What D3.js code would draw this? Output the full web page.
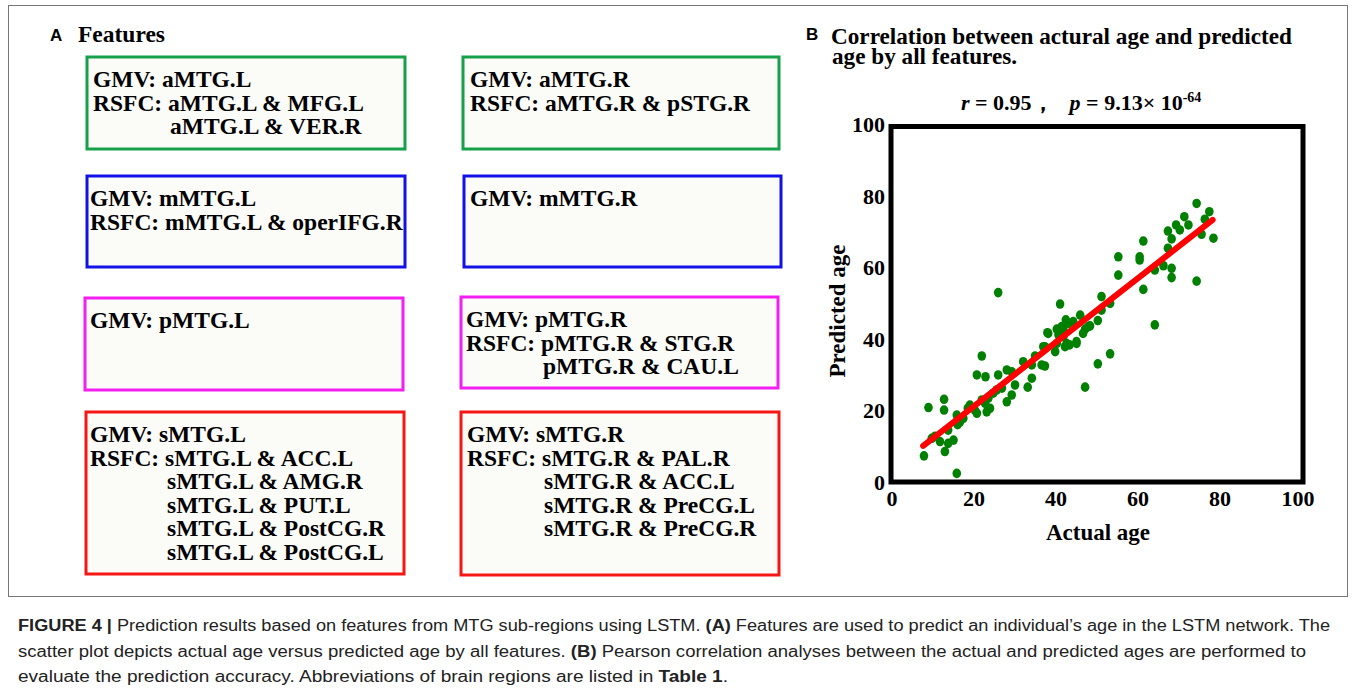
<!DOCTYPE html>
<html>
<head>
<meta charset="utf-8">
<script src="https://cdn.jsdelivr.net/npm/d3@7"></script>
<style>
  body { margin: 0; background: #fff; }
  svg { display: block; }
</style>
</head>
<body>
<svg width="1357" height="693"></svg>
<script>
// panel A: features of each MTG sub-region
var gmvRegions = ["aMTG.L", "aMTG.R", "mMTG.L", "mMTG.R", "pMTG.L", "pMTG.R", "sMTG.L", "sMTG.R"];
var rsfcPairs = [
  ["aMTG.L & MFG.L", "aMTG.L & VER.R"],
  ["aMTG.R & pSTG.R"],
  ["mMTG.L & operIFG.R"],
  [],
  [],
  ["pMTG.R & STG.R", "pMTG.R & CAU.L"],
  ["sMTG.L & ACC.L", "sMTG.L & AMG.R", "sMTG.L & PUT.L", "sMTG.L & PostCG.R", "sMTG.L & PostCG.L"],
  ["sMTG.R & PAL.R", "sMTG.R & ACC.L", "sMTG.R & PreCG.L", "sMTG.R & PreCG.R"]
];
var boxColors = ["#16a04a", "#16a04a", "#1212e6", "#1212e6", "#f21ef2", "#f21ef2", "#f51616", "#f51616"];

// panel B: actual vs predicted age
var actualAge = [7.8, 8.9, 12.7, 12.7, 15.8, 11.7, 12.9, 13.7, 15.0, 13.7, 15.8, 16.6, 9.7, 20.7, 21.9,
  22.8, 25.9, 28.0, 29.2, 30.0, 28.0, 29.2, 32.0, 33.1, 34.1, 36.5, 37.3, 36.9, 38.1, 41.0,
  40.2, 41.8, 42.6, 41.4, 43.0, 45.0, 19.0, 20.2, 20.7, 23.1, 23.9, 22.7, 21.9, 23.5, 24.7,
  25.5, 26.8, 18.5, 17.4, 64.1, 53.2, 50.2, 47.1, 50.2, 51.1, 53.2, 45.9, 44.2, 47.9, 46.6,
  74.3, 77.4, 76.3, 71.3, 72.3, 69.3, 70.2, 67.3, 68.2, 75.5, 78.4, 61.3, 67.3, 55.2, 60.4,
  60.4, 55.2, 64.1, 66.2, 68.2, 68.2, 61.3, 74.3, 51.1, 25.9, 42.4, 41.8, 40.2, 37.9, 40.6,
  42.2, 43.3, 39.8, 37.3, 34.9, 34.1, 48.3, 47.1, 45.0, 16.0, 10.5];
var predictedAge = [7.3, 20.8, 23.1, 20.1, 2.4, 11.3, 8.5, 10.8, 11.7, 14.5, 18.7, 16.8, 12.2, 29.9, 35.2,
  29.4, 29.9, 31.3, 30.8, 27.1, 22.4, 24.3, 33.6, 26.5, 29.0, 32.7, 32.4, 37.8, 41.5, 49.7,
  38.7, 40.6, 38.7, 43.4, 44.3, 39.2, 21.5, 20.1, 19.2, 19.6, 20.6, 22.0, 22.9, 23.4, 24.8,
  25.7, 26.2, 20.6, 17.8, 43.9, 35.8, 33.0, 26.5, 45.1, 48.0, 49.9, 46.6, 44.8, 43.4, 41.5,
  77.8, 75.5, 73.4, 74.1, 71.8, 71.8, 70.4, 70.1, 67.9, 69.2, 68.1, 67.3, 65.3, 62.9, 62.9,
  62.0, 57.8, 59.2, 60.4, 59.7, 57.1, 53.8, 56.1, 51.8, 52.9, 45.3, 42.5, 42.7, 41.7, 41.1,
  37.8, 38.3, 36.4, 37.8, 35.2, 32.7, 43.6, 42.7, 38.7, 16.0, 12.8];
var fitX = [7.6, 78.2];
var fitY = [10.1, 73.2];
var tickValues = [0, 20, 40, 60, 80, 100];

var serif = "'Liberation Serif', 'Times New Roman', serif";
var sans = "'Liberation Sans', Arial, sans-serif";

var svg = d3.select("svg");

// figure frame
svg.append("rect")
  .attr("x", 8.5).attr("y", 5.5).attr("width", 1339).attr("height", 591)
  .attr("fill", "none").attr("stroke", "#777").attr("stroke-width", 1);

// ---------- panel A ----------
svg.append("text").attr("x", 50).attr("y", 41)
  .style("font-family", sans).style("font-weight", "bold").style("font-size", "17px")
  .text("A");
svg.append("text").attr("x", 78).attr("y", 42)
  .style("font-family", serif).style("font-weight", "bold").style("font-size", "23.5px")
  .text("Features");

var boxLayout = [
  { x: 87, y: 57, w: 318, h: 92, tx: 93 },
  { x: 463, y: 57, w: 316, h: 92, tx: 470 },
  { x: 87, y: 176, w: 318, h: 91, tx: 90 },
  { x: 464, y: 176, w: 317, h: 91, tx: 470 },
  { x: 85, y: 298, w: 318, h: 92, tx: 90 },
  { x: 461, y: 297, w: 317, h: 91, tx: 466 },
  { x: 86, y: 412, w: 318, h: 162, tx: 90 },
  { x: 461, y: 412, w: 318, h: 163, tx: 467 }
];
var lineGap = 23.6;

gmvRegions.forEach(function(region, i) {
  var b = boxLayout[i];
  var g = svg.append("g");
  g.append("rect")
    .attr("x", b.x).attr("y", b.y).attr("width", b.w).attr("height", b.h)
    .attr("fill", "#fbfbf8").attr("stroke", boxColors[i]).attr("stroke-width", 3);

  var lines = [{ t: "GMV: " + region, x: b.tx }];
  rsfcPairs[i].forEach(function(p, j) {
    lines.push(j == 0 ? { t: "RSFC: " + p, x: b.tx } : { t: p, x: b.tx + 77 });
  });

  g.selectAll("text")
    .data(lines)
    .enter().append("text")
    .attr("x", function(d) { return d.x; })
    .attr("y", function(d, k) { return b.y + 30 + k * lineGap; })
    .style("font-family", serif).style("font-weight", "bold").style("font-size", "23.5px")
    .text(function(d) { return d.t; });
});

// ---------- panel B ----------
svg.append("text").attr("x", 806).attr("y", 40)
  .style("font-family", sans).style("font-weight", "bold").style("font-size", "17px")
  .text("B");
svg.append("text").attr("x", 831).attr("y", 44)
  .style("font-family", serif).style("font-weight", "bold").style("font-size", "23.2px")
  .text("Correlation between actural age and predicted");
svg.append("text").attr("x", 832).attr("y", 64)
  .style("font-family", serif).style("font-weight", "bold").style("font-size", "23.2px")
  .text("age by all features.");

var stat = svg.append("text").attr("x", 961).attr("y", 110)
  .style("font-family", serif).style("font-weight", "bold").style("font-size", "22px");
stat.append("tspan").style("font-style", "italic").text("r");
stat.append("tspan").text(" = 0.95，");
stat.append("tspan").attr("dx", 16).style("font-style", "italic").text("p");
stat.append("tspan").text(" = 9.13× 10");
stat.append("tspan").attr("dy", -8).style("font-size", "14px").text("-64");

var x = d3.scaleLinear().domain([0, 100]).range([892, 1302]);
var y = d3.scaleLinear().domain([0, 100]).range([482, 124]);

// axis tick labels
svg.append("g")
  .selectAll("text")
  .data(tickValues)
  .enter().append("text")
  .attr("x", 885)
  .attr("y", function(d) { return y(d) + 8; })
  .attr("text-anchor", "end")
  .style("font-family", serif).style("font-weight", "bold").style("font-size", "22px")
  .text(function(d) { return d; });

svg.append("g")
  .selectAll("text")
  .data(tickValues)
  .enter().append("text")
  .attr("x", function(d) { return x(d) - (d == 100 ? 4 : 0); })
  .attr("y", 506)
  .attr("text-anchor", "middle")
  .style("font-family", serif).style("font-weight", "bold").style("font-size", "22px")
  .text(function(d) { return d; });

svg.append("text")
  .attr("x", 1098).attr("y", 540)
  .attr("text-anchor", "middle")
  .style("font-family", serif).style("font-weight", "bold").style("font-size", "23px")
  .text("Actual age");

svg.append("text")
  .attr("transform", "translate(845,311) rotate(-90)")
  .attr("text-anchor", "middle")
  .style("font-family", serif).style("font-weight", "bold").style("font-size", "23px")
  .text("Predicted age");

// points
var pts = d3.zip(actualAge, predictedAge);
svg.append("g")
  .selectAll("ellipse")
  .data(pts)
  .enter().append("ellipse")
  .attr("cx", function(d) { return x(d[0]); })
  .attr("cy", function(d) { return y(d[1]); })
  .attr("rx", 4.3)
  .attr("ry", 4.8)
  .attr("fill", "#008000");

// fitted line
svg.append("path")
  .datum(d3.zip(fitX, fitY))
  .attr("d", d3.line().x(function(d) { return x(d[0]); }).y(function(d) { return y(d[1]); }))
  .attr("stroke", "#ff0000").attr("stroke-width", 6).attr("stroke-linecap", "round")
  .attr("fill", "none");

// plot frame
svg.append("rect")
  .attr("x", 891).attr("y", 126.5).attr("width", 412).attr("height", 355.5)
  .attr("fill", "none").attr("stroke", "#000").attr("stroke-width", 5);

// ---------- caption ----------
var captionLines = [
  [["FIGURE 4 | ", true], ["Prediction results based on features from MTG sub-regions using LSTM. ", false], ["(A)", true], [" Features are used to predict an individual\u2019s age in the LSTM network. The", false]],
  [["scatter plot depicts actual age versus predicted age by all features. ", false], ["(B)", true], [" Pearson correlation analyses between the actual and predicted ages are performed to", false]],
  [["evaluate the prediction accuracy. Abbreviations of brain regions are listed in ", false], ["Table 1", true], [".", false]]
];
var captionWidths = [1312, 1288, 710];

captionLines.forEach(function(parts, i) {
  var t = svg.append("text")
    .attr("x", 18).attr("y", 631 + i * 25.5)
    .attr("textLength", captionWidths[i])
    .attr("lengthAdjust", "spacingAndGlyphs")
    .style("font-family", sans).style("font-size", "16px").style("fill", "#222");
  parts.forEach(function(p) {
    t.append("tspan").style("font-weight", p[1] ? "bold" : "normal").text(p[0]);
  });
});
</script>
</body>
</html>
